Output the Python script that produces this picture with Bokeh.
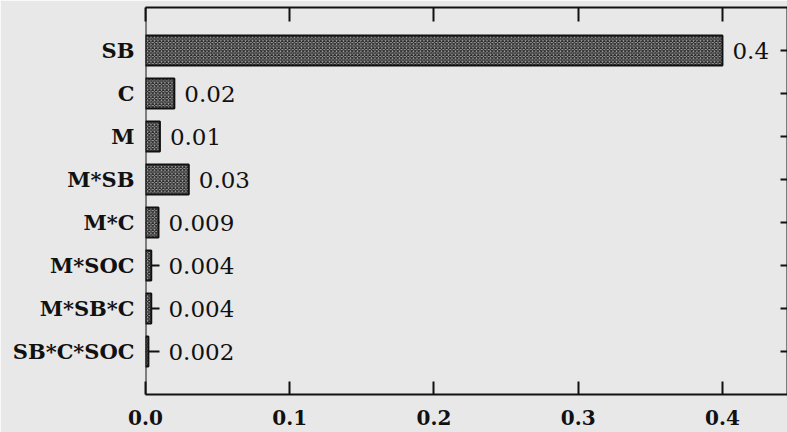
from bokeh.plotting import figure
from bokeh.models import (FactorRange, Range1d, LinearAxis, CategoricalAxis,
                          FixedTicker, ColumnDataSource, LabelSet)
from bokeh.core.properties import value
from bokeh.embed import file_html
from bokeh.resources import INLINE
import numpy as np

categories = ["SB", "C", "M", "M*SB", "M*C", "M*SOC", "M*SB*C", "SB*C*SOC"]
effects = [0.4, 0.02, 0.01, 0.03, 0.009, 0.004, 0.004, 0.002]
value_labels = ["0.4", "0.02", "0.01", "0.03", "0.009", "0.004", "0.004", "0.002"]
x_ticks = [0.0, 0.1, 0.2, 0.3, 0.4]
x_tick_labels = ["0.0", "0.1", "0.2", "0.3", "0.4"]

BG = "#e8e8e8"
INK = "#111111"
SERIF = "DejaVu Serif"

src = ColumnDataSource(dict(
    cat=categories,
    val=effects,
    lab=value_labels,
    lx=list(np.maximum(np.array(effects), 0.009)),
))

p = figure(width=787, height=432,
           y_range=FactorRange(factors=categories[::-1], range_padding=0.5,
                               range_padding_units="absolute"),
           x_range=Range1d(0, 0.4451),
           output_backend="svg", toolbar_location=None,
           min_border_left=145, min_border_right=0, min_border_top=7,
           min_border_bottom=38,
           background_fill_color=BG, border_fill_color=BG,
           x_axis_location=None, y_axis_location="left")
p.outline_line_color = None
p.grid.visible = False

p.hbar(y="cat", right="val", left=0, height=0.7, source=src,
       fill_color="#a8a8a8", line_color=INK, line_width=2,
       hatch_pattern="diagonal_cross", hatch_color="#2a2a2a",
       hatch_scale=3.5, hatch_weight=1.2)

labels = LabelSet(x="lx", y="cat", text="lab", source=src, x_offset=10,
                  text_baseline="middle", text_align="left",
                  text_font=value(SERIF), text_font_size="23px",
                  text_color=INK)
p.add_layout(labels)

# left categorical axis: line and inward ticks, drawn under the bars
yl = p.yaxis[0]
yl.level = "underlay"
yl.major_tick_in = 14
yl.major_tick_out = 0
yl.axis_line_width = 2
yl.axis_line_color = INK
yl.major_tick_line_width = 2
yl.major_tick_line_color = INK
yl.major_label_standoff = 0
yl.major_label_text_color = None
yl.major_label_text_font_size = "1px"

# left categorical axis: labels only
ylab = CategoricalAxis(axis_line_color=None, major_tick_line_color=None,
                       major_tick_in=0, major_tick_out=0,
                       major_label_standoff=11,
                       major_label_text_font=SERIF,
                       major_label_text_font_style="bold",
                       major_label_text_font_size="21px",
                       major_label_text_color=INK)
p.add_layout(ylab, "left")

# right categorical axis (ticks only)
yr = CategoricalAxis(major_tick_in=7, major_tick_out=0, axis_line_width=2,
                     axis_line_color=INK, major_tick_line_width=2,
                     major_tick_line_color=INK,
                     major_label_text_color=None, major_label_text_font_size="1px",
                     major_label_standoff=0)
p.add_layout(yr, "right")

# bottom axis
xb = LinearAxis(ticker=FixedTicker(ticks=x_ticks),
                major_label_overrides={t: l for t, l in zip(x_ticks, x_tick_labels)},
                major_tick_in=13, major_tick_out=0, minor_tick_in=0, minor_tick_out=0,
                axis_line_width=2, axis_line_color=INK,
                major_tick_line_width=2, major_tick_line_color=INK,
                major_label_standoff=15,
                major_label_text_font=SERIF, major_label_text_font_style="bold",
                major_label_text_font_size="20px", major_label_text_color=INK)
p.add_layout(xb, "below")

# top axis (ticks only)
xt = LinearAxis(ticker=FixedTicker(ticks=x_ticks),
                major_tick_in=14, major_tick_out=0, minor_tick_in=0, minor_tick_out=0,
                axis_line_width=2, axis_line_color=INK,
                major_tick_line_width=2, major_tick_line_color=INK,
                major_label_standoff=0, major_label_text_color=None,
                major_label_text_font_size="1px")
p.add_layout(xt, "above")

open("out.html", "w").write(file_html(p, INLINE))
